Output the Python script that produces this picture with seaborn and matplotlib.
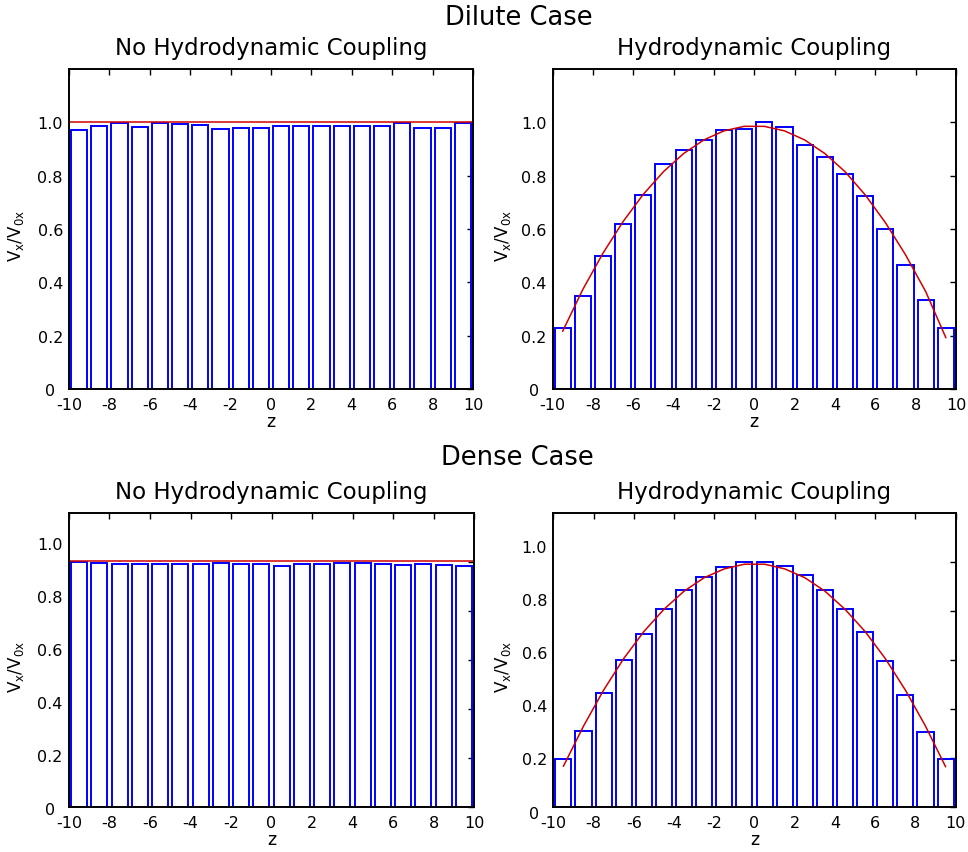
import numpy as np
import pandas as pd
import matplotlib
matplotlib.use("Agg")
import matplotlib.pyplot as plt
import seaborn as sns

# ---------------- data ----------------
z_centers = [-9.5, -8.5, -7.5, -6.5, -5.5, -4.5, -3.5, -2.5, -1.5, -0.5,
             0.5, 1.5, 2.5, 3.5, 4.5, 5.5, 6.5, 7.5, 8.5, 9.5]

dilute_no_coupling = [0.9725, 0.9875, 0.996, 0.984, 0.996, 0.9925, 0.989, 0.976, 0.980, 0.9775,
                      0.9875, 0.9875, 0.9875, 0.9875, 0.986, 0.9875, 0.999, 0.980, 0.980, 0.9975]
dilute_coupling = [0.230, 0.349, 0.4975, 0.620, 0.726, 0.8425, 0.896, 0.934, 0.970, 0.976,
                   1.001, 0.9825, 0.914, 0.869, 0.8075, 0.724, 0.601, 0.465, 0.3325, 0.2275]
dense_no_coupling = [1.000, 0.996, 0.990, 0.993, 0.993, 0.990, 0.990, 0.997, 0.990, 0.990,
                     0.982, 0.992, 0.993, 0.996, 0.995, 0.993, 0.988, 0.990, 0.986, 0.985]
dense_coupling = [0.196, 0.312, 0.465, 0.599, 0.706, 0.807, 0.885, 0.940, 0.979, 1.001,
                  1.001, 0.982, 0.945, 0.886, 0.807, 0.714, 0.595, 0.458, 0.308, 0.197]

flat_z = [-10, 10]
dilute_flat = [1.0, 1.0]
dense_flat = [1.003, 1.003]

fit_z = z_centers
dilute_fit = [0.216, 0.373, 0.509, 0.628, 0.730, 0.815, 0.883, 0.934, 0.968, 0.985,
              0.985, 0.968, 0.934, 0.883, 0.815, 0.728, 0.624, 0.503, 0.365, 0.192]
dense_fit = [0.166, 0.330, 0.477, 0.606, 0.716, 0.807, 0.881, 0.936, 0.972, 0.991,
             0.991, 0.972, 0.936, 0.881, 0.807, 0.716, 0.606, 0.477, 0.330, 0.164]

x_ticks = [-10, -8, -6, -4, -2, 0, 2, 4, 6, 8, 10]
x_tick_labels = ["-10", "-8", "-6", "-4", "-2", "0", "2", "4", "6", "8", "10"]
y_ticks = [0, 0.2, 0.4, 0.6, 0.8, 1.0]
y_tick_labels = ["0", "0.2", "0.4", "0.6", "0.8", "1.0"]

case_titles = ["Dilute Case", "Dense Case"]
panel_titles = ["No Hydrodynamic Coupling", "Hydrodynamic Coupling"]
y_label = r"V$_{\mathregular{x}}$/V$_{\mathregular{0x}}$"
x_label = "z"

# label placement quirk of the original (dense row): label positions in data units
dense_label_pos_left = [-0.009, 0.207, 0.423, 0.639, 0.855, 1.071]
dense_label_pos_right = [-0.026, 0.192, 0.409, 0.626, 0.843, 1.060]

# ---------------- style ----------------
sns.set_style("white")
plt.rcParams["font.family"] = ["DejaVu Sans"]
plt.rcParams["axes.unicode_minus"] = False
plt.rcParams["text.color"] = "black"
plt.rcParams["axes.labelcolor"] = "black"
plt.rcParams["xtick.color"] = "black"
plt.rcParams["ytick.color"] = "black"

W, H = 968, 853
fig = plt.figure(figsize=(W / 100, H / 100), dpi=100)

def px_axes(left, top, right, bottom):
    return fig.add_axes([left / W, 1 - bottom / H, (right - left) / W, (bottom - top) / H])

ax_tl = px_axes(69, 70, 473, 390)
ax_tr = px_axes(552.5, 70, 956, 390)
ax_bl = px_axes(69, 514, 474, 808)
ax_br = px_axes(553.3, 514, 955.7, 808)

BLUE = "#0000ff"
RED = "#d00000"

panels = [
    (ax_tl, dilute_no_coupling, flat_z, dilute_flat, panel_titles[0], None, -43),
    (ax_tr, dilute_coupling, fit_z, dilute_fit, panel_titles[1], None, -40),
    (ax_bl, dense_no_coupling, flat_z, dense_flat, panel_titles[0], dense_label_pos_left, -43),
    (ax_br, dense_coupling, fit_z, dense_fit, panel_titles[1], dense_label_pos_right, -40),
]

for ax, bars, lz, lv, title, label_pos, ylab_px in panels:
    df = pd.DataFrame({"z": z_centers, "v": bars})
    sns.barplot(data=df, x="z", y="v", native_scale=True, width=0.8, fill=False,
                color=BLUE, linewidth=1.4, errorbar=None, ax=ax)
    for p in ax.patches:
        p.set_edgecolor(BLUE)
        p.set_facecolor("none")
    ldf = pd.DataFrame({"z": lz, "v": lv})
    sns.lineplot(data=ldf, x="z", y="v", color=RED, linewidth=1.1, ax=ax)

    ax.set_xlim(-10, 10)
    ax.set_ylim(0, 1.2)
    ax.set_xticks(x_ticks)
    ax.set_xticklabels(x_tick_labels)
    ax.set_yticks(y_ticks)
    ax.tick_params(axis="both", direction="in", top=True, right=True,
                   length=4, width=1.0, labelsize=11.5, colors="black")
    ax.tick_params(axis="x", pad=6)
    ax.tick_params(axis="y", pad=13.5)
    if label_pos is None:
        ax.set_yticklabels(y_tick_labels)
        for lab in ax.get_yticklabels():
            lab.set_horizontalalignment("center")
    else:
        ax.set_yticklabels([""] * len(y_ticks))
        for pos, txt in zip(label_pos, y_tick_labels):
            ax.text(-19 / 404, pos, txt, transform=ax.get_yaxis_transform(),
                    ha="center", va="center", fontsize=11.5, clip_on=False)
    for s in ax.spines.values():
        s.set_visible(True)
        s.set_color("black")
        s.set_linewidth(1.4)
    ax.set_xlabel(x_label, fontsize=12.5, labelpad=0)
    ax.set_ylabel(y_label, fontsize=12)
    ax.yaxis.set_label_coords(ylab_px / 404, 0.48)
    ax.set_title(title, fontsize=16.5, pad=11)

fig.text(519 / W, 1 - 25 / H, case_titles[0], ha="center", va="baseline", fontsize=18.5)
fig.text(517 / W, 1 - 465 / H, case_titles[1], ha="center", va="baseline", fontsize=18.5)

fig.savefig("out.png", dpi=100)
